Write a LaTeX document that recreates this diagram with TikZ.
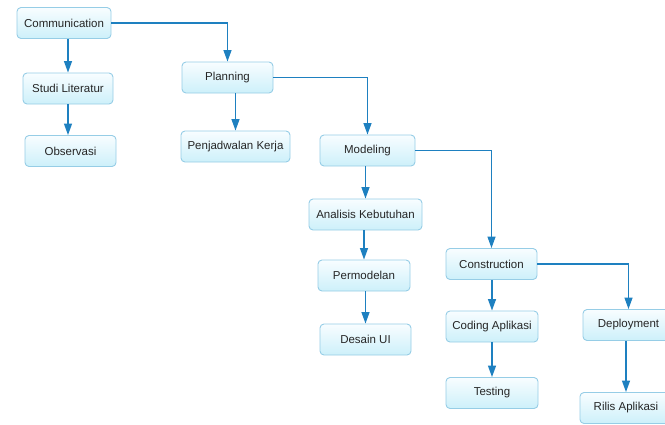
\documentclass[tikz,border=0pt]{standalone}
\usepackage{fontspec}
\setmainfont{Liberation Sans}
\usetikzlibrary{arrows.meta}
\definecolor{boxborder}{RGB}{150,205,230}
\definecolor{boxtop}{RGB}{248,253,255}
\definecolor{boxbot}{RGB}{205,240,250}
\definecolor{arrowc}{RGB}{30,128,192}
\tikzset{
  box/.style={draw=boxborder, line width=0.9pt, rounded corners=4pt,
    top color=boxtop, bottom color=boxbot, minimum height=31pt,
    inner sep=2pt, font=\fontsize{11.5}{13}\selectfont, text=black!85},
  conn/.style={color=arrowc, line width=1.3pt,
    -{Triangle[length=11.5pt,width=8pt]}}
}
\begin{document}
\begin{tikzpicture}[x=1pt,y=-1pt]
\useasboundingbox (0,0) rectangle (665,424);
\node[box, minimum width=94pt] (comm) at (64,23) {Communication};
\node[box, minimum width=90pt] (studi) at (68,88.5) {Studi Literatur};
\node[box, minimum width=91pt] (obs) at (70.5,151) {Observasi};
\node[box, minimum width=91pt] (plan) at (227.5,77.5) {Planning};
\node[box, minimum width=109pt] (penj) at (235.5,146.5) {Penjadwalan Kerja};
\node[box, minimum width=95pt] (model) at (367.5,150.5) {Modeling};
\node[box, minimum width=113pt] (anal) at (365.5,214.5) {Analisis Kebutuhan};
\node[box, minimum width=92pt] (perm) at (364,275.5) {Permodelan};
\node[box, minimum width=91pt] (desain) at (365.5,339.5) {Desain UI};
\node[box, minimum width=91pt] (cons) at (491.5,264) {Construction};
\node[box, minimum width=92pt] (coding) at (492,326.5) {Coding Aplikasi};
\node[box, minimum width=92pt] (testing) at (492,393) {Testing};
\node[box, minimum width=91pt] (deploy) at (628.5,325) {Deployment};
\node[box, minimum width=92pt] (rilis) at (626,408) {Rilis Aplikasi};

\draw[conn] (comm.south -| studi) -- (studi.north);
\draw[conn] (studi.south) -- (studi.south |- obs.north);
\draw[conn] (comm.east) -| (plan.north);
\draw[conn] (plan.south -| penj) -- (penj.north);
\draw[conn] (plan.east) -| (model.north);
\draw[conn] (model.south -| anal) -- (anal.north);
\draw[conn] (anal.south -| perm) -- (perm.north);
\draw[conn] (perm.south -| desain) -- (desain.north);
\draw[conn] (model.east) -| (cons.north);
\draw[conn] (cons.south -| coding) -- (coding.north);
\draw[conn] (coding.south) -- (testing.north);
\draw[conn] (cons.east) -| (deploy.north);
\draw[conn] (deploy.south -| rilis) -- (rilis.north);
\end{tikzpicture}
\end{document}
